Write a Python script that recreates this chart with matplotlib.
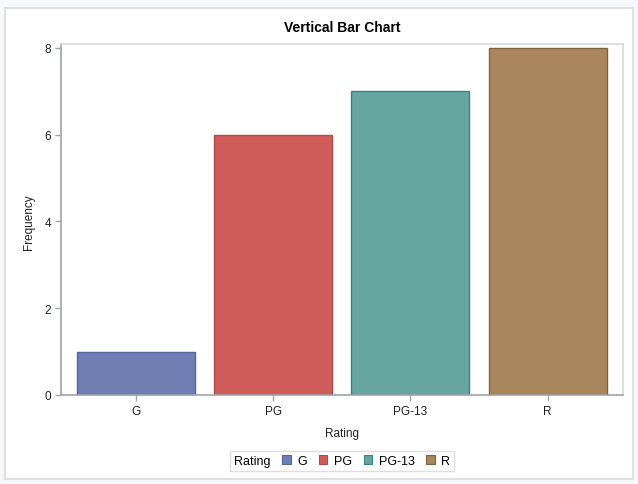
import matplotlib
matplotlib.use("Agg")
import matplotlib.pyplot as plt
from matplotlib.patches import Rectangle

# data
ratings = ["G", "PG", "PG-13", "R"]
freq = [1, 6, 7, 8]
fills = ["#6F7EB3", "#D05B5B", "#66A5A0", "#A9865B"]
edges = ["#56659F", "#B44A44", "#36857F", "#806240"]

plt.rcParams["font.family"] = ["Liberation Sans", "DejaVu Sans"]
W, H = 638, 485
fig = plt.figure(figsize=(W / 100, H / 100), dpi=100, facecolor="#f7f8fc")

# white page panel with light border
fig.patches.append(Rectangle((5 / W, 1 - 480 / H), 628 / W, 471 / H, transform=fig.transFigure,
                             facecolor="white", edgecolor="#e0e0e0", lw=1.5, zorder=-5))

ax = fig.add_axes([61 / W, 1 - 396 / H, 562 / W, 351 / H])
ax.set_zorder(2)
x = range(len(ratings))
ax.bar(x, freq, width=0.86, color=fills, edgecolor=edges, linewidth=1.0, zorder=2)
ax.set_xlim(-0.547, 3.55)
ax.set_ylim(0, 8.09)
ax.set_xticks(list(x), ratings)
ax.set_yticks([0, 2, 4, 6, 8])

for s in ("left", "bottom"):
    ax.spines[s].set_color("#a0a3a8")
    ax.spines[s].set_linewidth(1.2)
for s in ("top", "right"):
    ax.spines[s].set_color("#d6d8da")
    ax.spines[s].set_linewidth(1.2)
ax.tick_params(length=4, width=1, color="#a0a3a8", labelsize=8.5, labelcolor="#222222", pad=3)

ax.set_xlabel("Rating", fontsize=8.5, color="#222222")
ax.xaxis.set_label_coords((342 - 61) / 562, -(428 - 396) / 351)
ax.set_ylabel("Frequency", fontsize=8.5, color="#222222")
ax.yaxis.set_label_coords(-(61 - 35) / 562, (396 - 222) / 351)

fig.text(342 / W, 1 - 28 / H, "Vertical Bar Chart", ha="center", va="center",
         fontsize=10, fontweight="bold", color="black", zorder=3)

# legend with inline title
handles = [Rectangle((0, 0), 1, 1, facecolor=f, edgecolor=e, lw=0.8) for f, e in zip(fills, edges)]
leg = fig.legend(handles, ratings, title="Rating", loc="center",
                 bbox_to_anchor=(342 / W, 1 - 462 / H), ncol=4, fontsize=9,
                 title_fontsize=9, handlelength=0.7, handleheight=0.7,
                 handletextpad=0.5, columnspacing=0.95, borderpad=0.3,
                 frameon=True, fancybox=False, edgecolor="#d6d6d6")
leg.get_frame().set_linewidth(1)
leg.set_zorder(3)
box = leg._legend_box
title_box, handle_box = box.get_children()
handle_box._children.insert(0, title_box)
box._children = [handle_box]

fig.savefig("out.png", dpi=100, facecolor=fig.get_facecolor())
